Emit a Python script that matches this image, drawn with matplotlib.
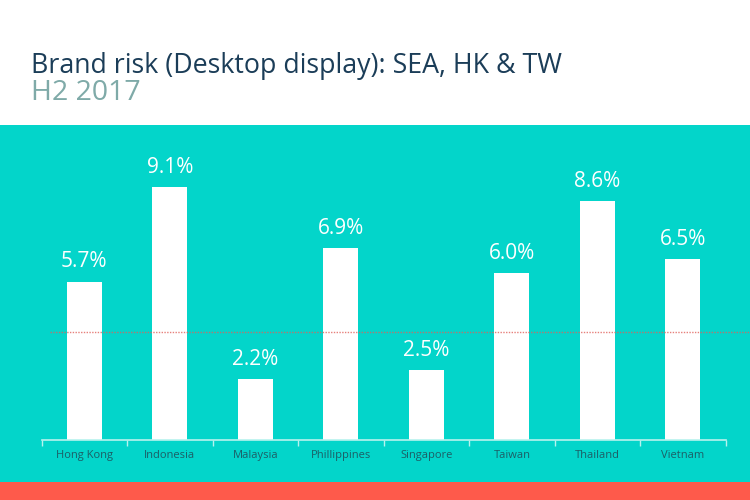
import matplotlib
matplotlib.use("Agg")
import matplotlib.pyplot as plt
from matplotlib.patches import Rectangle

# ---------------------------------------------------------------------------
# Data
# ---------------------------------------------------------------------------
countries = ["Hong Kong", "Indonesia", "Malaysia", "Phillippines",
             "Singapore", "Taiwan", "Thailand", "Vietnam"]
risk_pct = [5.7, 9.1, 2.2, 6.9, 2.5, 6.0, 8.6, 6.5]
benchmark_pct = 3.9

title = "Brand risk (Desktop display): SEA, HK & TW"
subtitle = "H2 2017"

TEAL = "#03d5ca"
CORAL = "#fe5a4b"
NAVY = "#1b3d58"

plt.rcParams["font.family"] = ["Open Sans", "DejaVu Sans"]

fig = plt.figure(figsize=(7.5, 5), dpi=100)
fig.patch.set_facecolor("white")

# background bands on a bare axes underneath everything
bg = fig.add_axes([0, 0, 1, 1], zorder=0)
bg.set_xlim(0, 1)
bg.set_ylim(0, 1)
bg.axis("off")
bg.add_patch(Rectangle((0, 0.036), 1, 0.714, facecolor=TEAL, edgecolor="none"))
bg.add_patch(Rectangle((0, 0), 1, 0.036, facecolor=CORAL, edgecolor="none"))

bg.text(0.041, 0.855, title, fontsize=19.3, color=NAVY)
bg.text(0.041, 0.80, subtitle, fontsize=20.5, color="#7faaa8")

ax = fig.add_axes([0.0555, 0.12, 0.912, 0.62], zorder=1)
ax.set_facecolor("none")
x = range(len(countries))
ax.bar(x, risk_pct, width=0.41, color="white", zorder=2)
for xi, v in zip(x, risk_pct):
    ax.text(xi, v + 0.33, f"{v:.1f}%", ha="center", va="bottom",
            color="white", fontsize=15, clip_on=False)

ax.set_xlim(-0.5, len(countries) - 0.5)
ax.set_ylim(0, 11.15)
ax.plot([-0.4, 8.0], [benchmark_pct, benchmark_pct], linestyle=(0, (1, 1)),
        color="#e0605a", linewidth=1.0, alpha=0.8, zorder=3, clip_on=False)

for side in ["top", "right", "left"]:
    ax.spines[side].set_visible(False)
ax.spines["bottom"].set_color("#b8f2ee")
ax.spines["bottom"].set_linewidth(1.2)
ax.set_yticks([])
ax.set_xticks([i - 0.5 for i in range(len(countries) + 1)], minor=False)
ax.set_xticklabels([])
ax.tick_params(axis="x", length=4, color="#b8f2ee", width=1)
ax.set_xticks(list(x), minor=True)
ax.set_xticklabels(countries, minor=True, fontsize=8, color="#1d5e66")
ax.tick_params(axis="x", which="minor", length=0, pad=7)

fig.savefig("out.png", dpi=100, facecolor=fig.get_facecolor())
